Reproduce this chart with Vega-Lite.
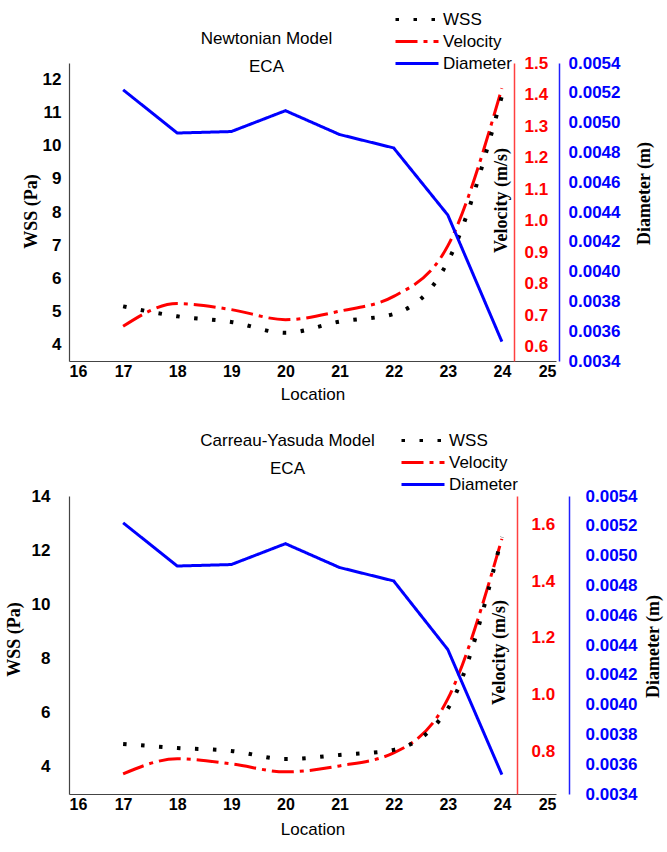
{
  "$schema": "https://vega.github.io/schema/vega-lite/v6.json",
  "background": "white",
  "padding": {"left": 5, "top": 11, "right": 5, "bottom": 5},
  "config": {
    "view": {"stroke": null},
    "axis": {
      "grid": false,
      "ticks": false,
      "labelFont": "Liberation Sans",
      "labelFontWeight": "bold",
      "labelFontSize": 17,
      "labelColor": "black",
      "titleFont": "Liberation Serif",
      "titleFontWeight": "bold",
      "titleFontSize": 18,
      "titleColor": "black",
      "domainColor": "#444444",
      "domainWidth": 1.2
    },
    "title": {
      "font": "Liberation Sans",
      "fontSize": 17,
      "fontWeight": "normal",
      "color": "black",
      "lineHeight": 28,
      "anchor": "middle"
    },
    "legend": {
      "orient": "none",
      "title": null,
      "symbolType": "stroke",
      "symbolSize": 1849,
      "symbolStrokeWidth": 3,
      "clipHeight": 17,
      "labelFont": "Liberation Sans",
      "labelFontSize": 17,
      "labelColor": "black",
      "labelOffset": 3,
      "rowPadding": 4
    }
  },
  "datasets": {
    "newtonian": [
      {"loc": 17, "wss": 5.15, "vel": 0.665, "dia": 0.00522},
      {"loc": 18, "wss": 4.85, "vel": 0.737, "dia": 0.00493},
      {"loc": 19, "wss": 4.68, "vel": 0.718, "dia": 0.00494},
      {"loc": 20, "wss": 4.35, "vel": 0.686, "dia": 0.00508},
      {"loc": 21, "wss": 4.69, "vel": 0.713, "dia": 0.00492},
      {"loc": 22, "wss": 4.92, "vel": 0.76, "dia": 0.00483},
      {"loc": 23, "wss": 6.5, "vel": 0.92, "dia": 0.00438},
      {"loc": 24, "wss": 11.5, "vel": 1.42, "dia": 0.00353}
    ],
    "carreau": [
      {"loc": 17, "wss": 4.85, "vel": 0.721, "dia": 0.00522},
      {"loc": 18, "wss": 4.70, "vel": 0.774, "dia": 0.00493},
      {"loc": 19, "wss": 4.59, "vel": 0.756, "dia": 0.00494},
      {"loc": 20, "wss": 4.29, "vel": 0.728, "dia": 0.00508},
      {"loc": 21, "wss": 4.44, "vel": 0.749, "dia": 0.00492},
      {"loc": 22, "wss": 4.63, "vel": 0.795, "dia": 0.00483},
      {"loc": 23, "wss": 6.15, "vel": 0.985, "dia": 0.00437},
      {"loc": 24, "wss": 12.49, "vel": 1.549, "dia": 0.00353}
    ]
  },
  "resolve": {
    "scale": {"color": "independent", "strokeDash": "independent"},
    "legend": {"color": "independent", "strokeDash": "independent"}
  },
  "spacing": 30,
  "vconcat": [
    {
      "title": {"text": ["Newtonian Model", "ECA"], "dx": -46, "offset": -65},
      "width": 487,
      "height": 298,
      "data": {"name": "newtonian"},
      "encoding": {
        "x": {
          "field": "loc",
          "type": "quantitative",
          "scale": {"domain": [16, 25], "nice": false, "zero": false},
          "axis": {
            "values": [16, 17, 18, 19, 20, 21, 22, 23, 24, 25],
            "labelFontSize": 16,
            "labelPadding": 2,
            "title": "Location",
            "titleFont": "Liberation Sans",
            "titleFontWeight": "normal",
            "titleFontSize": 17,
            "titleY": 33,
            "titleBaseline": "middle"
          }
        }
      },
      "layer": [
        {
          "mark": {"type": "line", "interpolate": "monotone", "strokeWidth": 3},
          "encoding": {
            "y": {
              "field": "vel",
              "type": "quantitative",
              "scale": {"domain": [0.555, 1.5], "nice": false, "zero": false},
              "axis": {
                "orient": "right",
                "offset": -42,
                "values": [0.6, 0.7, 0.8, 0.9, 1.0, 1.1, 1.2, 1.3, 1.4, 1.5],
                "format": ".1f",
                "labelColor": "#ff0000",
                "labelPadding": 10,
                "domainColor": "#ff4040",
                "domainWidth": 1.5,
                "title": "Velocity (m/s)",
                "titleAngle": -90,
                "titleX": -13,
                "titleY": 137,
                "titleAlign": "center",
                "titleBaseline": "middle"
              }
            },
            "color": {
              "datum": "Velocity",
              "scale": {"domain": ["WSS", "Velocity", "Diameter"], "range": ["#000000", "#ff0000", "#0000ff"]},
              "legend": {"legendX": 325, "legendY": -52}
            },
            "strokeDash": {
              "datum": "Velocity",
              "scale": {"domain": ["WSS", "Velocity", "Diameter"], "range": [[3.5, 14.5], [22, 6, 4, 6], [1, 0]]},
              "legend": {"legendX": 325, "legendY": -52}
            }
          }
        },
        {
          "mark": {"type": "line", "interpolate": "monotone", "strokeWidth": 4},
          "encoding": {
            "y": {
              "field": "wss",
              "type": "quantitative",
              "scale": {"domain": [3.5, 12.5], "nice": false, "zero": false},
              "axis": {
                "orient": "left",
                "values": [4, 5, 6, 7, 8, 9, 10, 11, 12],
                "labelPadding": 8,
                "title": "WSS (Pa)",
                "titleAngle": -90,
                "titleX": -38,
                "titleY": 148,
                "titleAlign": "center",
                "titleBaseline": "middle"
              }
            },
            "color": {"datum": "WSS"},
            "strokeDash": {"datum": "WSS"}
          }
        },
        {
          "mark": {"type": "line", "strokeWidth": 3},
          "encoding": {
            "y": {
              "field": "dia",
              "type": "quantitative",
              "scale": {"domain": [0.0034, 0.0054], "nice": false, "zero": false},
              "axis": {
                "orient": "right",
                "offset": 3,
                "values": [0.0034, 0.0036, 0.0038, 0.004, 0.0042, 0.0044, 0.0046, 0.0048, 0.005, 0.0052, 0.0054],
                "format": ".4f",
                "labelColor": "#0000ff",
                "labelPadding": 9,
                "domainColor": "#2020ff",
                "domainWidth": 1.5,
                "title": "Diameter (m)",
                "titleAngle": -90,
                "titleX": 85,
                "titleY": 130,
                "titleAlign": "center",
                "titleBaseline": "middle"
              }
            },
            "color": {"datum": "Diameter"},
            "strokeDash": {"datum": "Diameter"}
          }
        }
      ],
      "resolve": {"scale": {"y": "independent"}}
    },
    {
      "title": {"text": ["Carreau-Yasuda Model", "ECA"], "dx": -25, "offset": -46},
      "width": 487,
      "height": 298,
      "data": {"name": "carreau"},
      "encoding": {
        "x": {
          "field": "loc",
          "type": "quantitative",
          "scale": {"domain": [16, 25], "nice": false, "zero": false},
          "axis": {
            "values": [16, 17, 18, 19, 20, 21, 22, 23, 24, 25],
            "labelFontSize": 16,
            "labelPadding": 2,
            "title": "Location",
            "titleFont": "Liberation Sans",
            "titleFontWeight": "normal",
            "titleFontSize": 17,
            "titleY": 35,
            "titleBaseline": "middle"
          }
        }
      },
      "layer": [
        {
          "mark": {"type": "line", "interpolate": "monotone", "strokeWidth": 3},
          "encoding": {
            "y": {
              "field": "vel",
              "type": "quantitative",
              "scale": {"domain": [0.65, 1.7], "nice": false, "zero": false},
              "axis": {
                "orient": "right",
                "offset": -39,
                "values": [0.8, 1.0, 1.2, 1.4, 1.6],
                "format": ".1f",
                "labelColor": "#ff0000",
                "labelPadding": 14,
                "domainColor": "#ff4040",
                "domainWidth": 1.5,
                "title": "Velocity (m/s)",
                "titleAngle": -90,
                "titleX": -18,
                "titleY": 156,
                "titleAlign": "center",
                "titleBaseline": "middle"
              }
            },
            "color": {
              "datum": "Velocity",
              "scale": {"domain": ["WSS", "Velocity", "Diameter"], "range": ["#000000", "#ff0000", "#0000ff"]},
              "legend": {"legendX": 331, "legendY": -64}
            },
            "strokeDash": {
              "datum": "Velocity",
              "scale": {"domain": ["WSS", "Velocity", "Diameter"], "range": [[3.5, 14.5], [22, 6, 4, 6], [1, 0]]},
              "legend": {"legendX": 331, "legendY": -64}
            }
          }
        },
        {
          "mark": {"type": "line", "interpolate": "monotone", "strokeWidth": 4},
          "encoding": {
            "y": {
              "field": "wss",
              "type": "quantitative",
              "scale": {"domain": [3, 14], "nice": false, "zero": false},
              "axis": {
                "orient": "left",
                "values": [4, 6, 8, 10, 12, 14],
                "labelPadding": 19,
                "title": "WSS (Pa)",
                "titleAngle": -90,
                "titleX": -55,
                "titleY": 143,
                "titleAlign": "center",
                "titleBaseline": "middle"
              }
            },
            "color": {"datum": "WSS"},
            "strokeDash": {"datum": "WSS"}
          }
        },
        {
          "mark": {"type": "line", "strokeWidth": 3},
          "encoding": {
            "y": {
              "field": "dia",
              "type": "quantitative",
              "scale": {"domain": [0.0034, 0.0054], "nice": false, "zero": false},
              "axis": {
                "orient": "right",
                "offset": 13,
                "values": [0.0034, 0.0036, 0.0038, 0.004, 0.0042, 0.0044, 0.0046, 0.0048, 0.005, 0.0052, 0.0054],
                "format": ".4f",
                "labelColor": "#0000ff",
                "labelPadding": 16,
                "domainColor": "#2020ff",
                "domainWidth": 1.5,
                "title": "Diameter (m)",
                "titleAngle": -90,
                "titleX": 84,
                "titleY": 150,
                "titleAlign": "center",
                "titleBaseline": "middle"
              }
            },
            "color": {"datum": "Diameter"},
            "strokeDash": {"datum": "Diameter"}
          }
        }
      ],
      "resolve": {"scale": {"y": "independent"}}
    }
  ]
}
